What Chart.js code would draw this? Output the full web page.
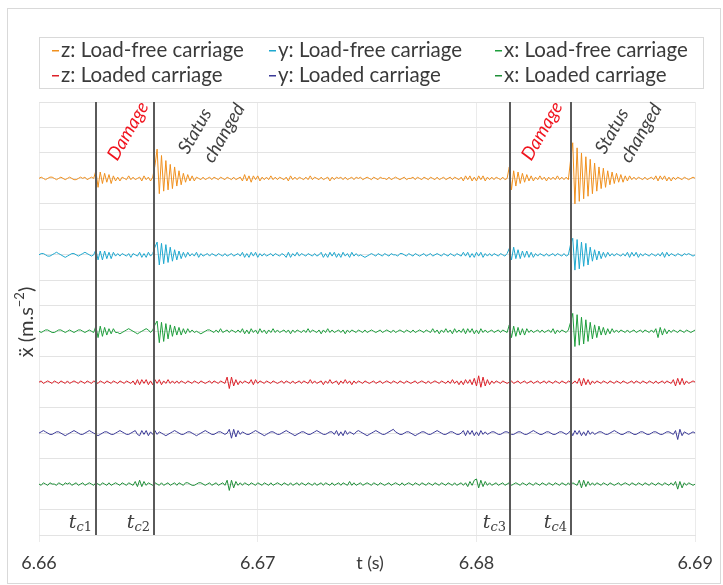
<!DOCTYPE html>
<html>
<head>
<meta charset="utf-8">
<script src="https://cdn.jsdelivr.net/npm/chart.js@4.4.1/dist/chart.umd.min.js"></script>
<style>
  html, body { margin: 0; padding: 0; background: #fff; }
</style>
</head>
<body>
<canvas id="grafico" width="723" height="585"></canvas>
<script>
// Dados (unidades arbitrárias, 20 = uma linha da grelha)
const seriesLabels = ['z: Load-free carriage', 'y: Load-free carriage', 'x: Load-free carriage',
                      'z: Loaded carriage', 'y: Loaded carriage', 'x: Loaded carriage'];
const seriesColors = ['#f0901e', '#1ea8cf', '#1e9e3c', '#dd2129', '#3b3a98', '#1f8f38'];
const traceOffsets = [280, 220, 160, 120, 80, 40];
const timeTicks = [6.66, 6.67, 6.68, 6.69];
const changeTimes = [6.66259, 6.66527, 6.68155, 6.68432];
const changeNames = ['1', '2', '3', '4'];
const sampleStart = 6.66;
const sampleStep = 0.0001;

const zLoadFree = [0,1,0,-1,0,1,1,0,-1,0, 1,0,-1,0,1,0,-1,-1,0,1, 0,1,-1,0,1,0,
  6,-7,5,-4,4,-3,3,-4,2,-2, 1,-2,1,0,-1,2,-1,1,-1,0, 1,-2,2,-1,1,-2,1,
  10,23,-12,18,-10,14,-9,11,-8,9, -6,6,-5,4,-3,3,-2,2,-2,1, 0,-1,1,-1,0,1,-1,1,
  0,-1,1,0,-1,1,0,-1,1,-1,0,1, -2,3,-2,2,-3,2,-1,2,-2,1, -1,1,-1,2,-1,1,-1,1,0,-1,
  1,-2,2,-1,1,-1, 1,0,-1,1,-1,2,-1,1,0,-1, 1,-1,0,1,-2,1,-1,1,0,1, -1,1,-1,0,1,-1,1,
  0,1,-1,0,1,0,-1,1,0,-1, 1,0,0,-1,1,-1,0,1,0,-1, 0,1,-1,0,0,1,-1,1,0,-1, 1,0,-1,1,0,-1,1,-1,0,1,
  -1,0,1,-1,1,0,-1,1, -2,2,-1,2,-2,1,-2,2,-1,2, -2,1,-1, 1,-1,1,0,-1,1,-1,0,
  9,-9,6,-6,5,-4,4,-3,3,-2, 2,-2,1,-1,2,-1,1,-2,1,-1, 1,-1,2,-1,1,-1,1,-1,
  14,28,-20,24,-18,20,-16,17,-14,15, -12,12,-10,9,-8,8,-7,6,-5,5, -4,4,-3,3,-3,2,-2,2,-1,1,
  -1,1,0,-1,1,-1,0,1,-1, 2,-2,2,-1,2,-2,1,-2,1, -1,1,0,-1,1,0,-1,0,1,0];

const yLoadFree = [0,1,1,0,-1,-1,0,1,2,1, 0,-1,-2,-1,0,1,1,0,-1,0, 1,2,1,0,-1,0,
  4,-4,3,-4,3,-3,2,-3,2,-1, 1,-1,1,0,-1,1,-2,1,0,-1, 2,-2,1,-2,2,-1,1,
  6,10,-8,9,-7,8,-6,6,-5,4, -4,3,-3,2,-2,2,-1,1,-1,2, -2,1,-1,0,1,-1,1,0,
  -1,1,0,-1,1,-1,0,1,-1,0,1,-1, 2,-2,1,-2,2,-1,2,-2,1,-1, 1,-1,0,1,-1,1,0,-1,1,0,
  -2,2,-2,1,-1,2, -1,1,0,-1,1,0,-1,1,-1,0, 2,-2,1,-2,2,-1,2,-2,1,-2, 2,-1,1,-2,2,-1,1,
  -1,0,-1,-2,-1,0,1,0,-1,1, 0,-1,1,0,-1,1,0,0,-1,1, 1,0,-1,1,0,-1,1,0,-1,0, 1,-1,0,1,-1,0,1,0,-1,1,
  0,-1,1,0,-1,1,0,-1, 2,-1,2,-2,1,-2,2,-1,2,-2, 1,-1,1, -1,1,0,-1,1,0,-1,1,
  5,-4,6,-3,4,-3,3,-2,3,-2, 2,-2,1,-1,1,0,-1,1,-1,0, 1,-1,1,0,-1,1,-1,0,
  8,13,-12,12,-11,10,-9,9,-8,6, -5,4,-4,3,-3,2,-2,2,-1,1, -1,1,0,-1,1,-1,2,-2,2,-1,
  2,-2,1,-1,1,0,-1,1,0, -1,1,-1,2,-2,2,-1,1,0, -1,1,0,-1,1,0,1,0,-1,0];

const xLoadFree = [0,-1,0,1,1,0,-1,-1,0,1, 1,0,-1,0,1,0,-1,0,1,1, 0,-1,0,1,0,-1,
  4,-5,4,-4,3,-3,2,-2,2,-1, -1,-2,-1,0,1,2,1,0,-1,-2, -1,0,1,2,1,-1,1,
  5,8,-9,7,-8,6,-6,5,-4,4, -3,3,-3,2,-2,2,-1,1,-1,0, -1,-2,-1,0,1,1,0,-1,
  1,-1,2,-1,0,1,-1,1,0,-1,1,-1, 2,-2,1,-2,2,-1,1,-2,2,-1, 1,-2,1,-1,2,-1,1,-1,0,1,
  -1,1,-2,1,-1,1, 0,-1,1,-1,2,-1,1,0,-1,1, -2,1,-1,2,-1,1,-1,0,1,-1, 1,-2,1,-1,1,0,-1,
  1,0,-1,1,-1,0,1,0,-1,0, 1,-1,0,1,0,-1,1,-1,0,1, 0,-1,1,0,-1,1,-1,0,1,0, -1,1,0,-1,2,-1,1,-2,1,-1,
  2,-1,1,-2,2,-1,1,-1, 2,-2,2,-1,2,-2,1,-2,2,-1, 1,-1,0, 1,-1,0,1,-1,1,0,-1,
  5,-5,4,-4,3,-3,2,-3,2,-1, 1,-1,0,1,-1,1,-1,0,1,-1, 2,-2,1,-1,1,0,-1,1,
  7,14,-12,13,-11,11,-10,9,-8,7, -6,5,-5,4,-3,3,-3,2,-2,2, -1,1,-1,1,0,-1,1,-1,0,1,
  -1,0,1,-1,1,0,-1,1,-1, 2,-5,3,-3,2,-2,1,-1,1, 0,-1,1,0,-1,1,0,-1,0,1];

const zLoaded = [0,1,-1,0,1,0,-1,1,0,-1, 1,0,-1,1,-1,0,1,0,-1,1, 0,-1,1,0,-1,1,
  0,-1,1,0,-1,1,0,-1,1,0, -1,1,0,-1,1,0,-1,1,-2,2, -2,2,-1,2,-2,1,-2,
  2,-1,2,-2,1,-1,2,-1,1,-1, 1,-1,1,0,-1,1,0,-1,1,0, -1,1,0,-1,0,1,-1,1,
  0,-1,1,0,-1,4,-5,4,-3,2,-2,1, -1,1,0,-1,2,-2,2,-1,1,0, -1,1,0,-1,1,0,-1,0,1,-1,
  1,0,-1,1,-1,0, 1,-1,1,0,-1,2,-1,1,-1,0, 1,-2,1,-1,2,-1,0,1,-2,1, -1,2,-1,1,-2,1,-1,
  1,0,-1,1,0,-1,0,1,-1,0, 1,-1,0,1,0,-1,1,0,-1,1, 0,-1,1,0,-1,0,1,-1,0,1, 0,-1,1,-1,0,1,0,-1,1,0,
  -1,1,-1,2,-1,1,-2,1, -2,2,-1,2,-2,3,-3,5,-4,4, -3,2,-2, 1,-1,1,0,-1,1,0,-1,
  0,1,-1,0,1,-1,0,1,-1,0, 1,-1,0,1,-1,0,1,-1,1,0, -1,1,0,-1,1,0,-1,1,
  0,-1,1,-1,3,-3,3,-2,2,-2, 1,-1,1,0,-1,1,0,-1,1,0, -1,1,0,-1,1,0,-1,0,1,-1,
  1,0,-1,1,0,-1,1,0,-1, 1,-1,0,1,-1,1,0,-1,2, -3,3,-2,3,-2,1,-1,0,1,0];

const yLoaded = [0,1,2,1,0,-1,-1,0,1,1, 0,-1,-2,-1,0,1,2,1,0,-1, -1,0,1,2,1,0,
  -1,-2,-1,0,1,1,0,-1,-1,0, 1,2,1,0,-1,-1,0,1,2,-1, -2,2,-1,2,-2,1,-1,
  2,-1,1,0,-1,-2,-1,0,1,2, 1,0,-1,-1,0,1,1,0,-1,-2, -1,0,1,2,1,0,-1,-1,
  0,1,1,0,-1,0,3,-4,3,-3,2,-1, 1,0,-1,-1,0,1,2,1,0,-1, -2,-1,0,1,1,0,-1,-1,0,1,
  2,1,0,-1,-2,-1, 0,1,1,0,-1,-1,0,1,2,1, 0,-1,-1,0,1,1,-1,2,-2,1, -2,2,-1,1,0,-1,1,
  2,1,0,-1,-2,-1,0,1,2,1, 0,-1,-1,0,1,2,3,1,0,-1, -1,0,1,1,0,-1,-2,-1,0,1, 1,0,-1,-1,0,1,2,1,0,-1,
  -1,0,1,1,0,-1,-1,0, 2,-2,2,-1,2,-2,1,-2,2,-1, 1,-1,0, 1,1,0,-1,-1,0,1,1,
  0,-1,-1,0,1,1,0,-1,-1,0, 1,2,1,0,-1,-1,0,1,1,0, -1,-1,0,1,1,0,-1,0,
  2,-2,2,-1,2,-2,1,-2,2,-1, 1,-1,0,1,1,0,-1,-1,0,1, 2,1,0,-1,-1,0,1,1,0,-1,
  -1,0,1,1,0,-1,-1,0,1, 1,0,-1,-1,0,1,1,0,-1, 2,-5,3,-2,1,0,-1,0,1,0];

const xLoaded = [0,-1,1,0,-1,1,0,0,-1,1, 0,-1,1,0,1,-1,0,1,-1,0, 1,-1,0,1,0,-1,
  1,0,-1,1,0,-1,1,-1,0,1, 0,-1,1,0,-1,1,0,-1,2,-2, 3,-2,2,-1,1,0,-1,
  1,0,-1,1,-1,0,1,-1,0,1, -1,1,0,-1,1,1,0,-1,-1,0, 1,1,0,-1,0,1,-1,0,
  1,-1,0,1,-1,3,-5,3,-3,2,-1,1, -1,1,0,-1,1,0,-1,1,0,-1, 1,0,-1,1,-1,0,1,0,-1,1,
  0,-1,1,-1,0,1, -1,1,0,-1,1,0,-1,1,-1,0, 1,-1,1,0,-1,1,-1,0,1,-1, 1,0,-1,2,-1,1,-1,
  0,1,-1,0,1,0,-1,1,0,-1, 1,0,-1,0,1,-1,0,1,0,-1, 1,-1,0,1,0,-1,1,0,-1,1, 0,-1,1,0,-1,1,0,-1,1,0,
  -1,1,0,-1,1,-1,0,1, -1,1,-2,2,-1,3,4,-3,3,-2, 2,-1,1, -1,0,1,-1,0,1,-1,0,
  1,-1,0,1,0,-1,1,0,-1,1, 0,-1,1,0,-1,1,0,-1,1,0, -1,1,0,-1,1,0,-1,1,
  -1,1,0,-1,3,-3,3,-2,2,-1, 1,-1,1,0,-1,1,0,-1,1,0, -1,0,1,-1,0,1,0,-1,1,0,
  -1,1,0,-1,1,0,-1,1,0, -1,1,0,-1,1,0,-1,1,-1, 2,-4,2,-3,1,-1,1,0,-1,0];

const sinais = [zLoadFree, yLoadFree, xLoadFree, zLoaded, yLoaded, xLoaded];

const datasets = sinais.map((s, k) => ({
  label: seriesLabels[k],
  data: s.map((v, i) => ({ x: sampleStart + i * sampleStep, y: traceOffsets[k] + v })),
  borderColor: seriesColors[k],
  borderWidth: 1,
  pointRadius: 0,
  tension: 0
}));

function textoRodado(c, txt, x, y, cor) {
  c.save();
  c.translate(x, y);
  c.rotate(-Math.PI / 3);
  c.fillStyle = cor;
  c.textAlign = 'center';
  c.textBaseline = 'middle';
  c.fillText(txt, 0, 0);
  c.restore();
}

const extras = {
  id: 'extras',
  beforeDraw(chart) {
    const c = chart.ctx;
    c.save();
    c.fillStyle = '#fff';
    c.fillRect(0, 0, chart.width, chart.height);
    c.strokeStyle = '#d9d9d9';
    c.lineWidth = 1;
    c.strokeRect(7.5, 8.5, 713, 575);
    c.restore();
  },
  afterDatasetsDraw(chart) {
    const c = chart.ctx;
    const area = chart.chartArea;
    const sx = chart.scales.x;
    c.save();
    changeTimes.forEach((t, k) => {
      const px = Math.round(sx.getPixelForValue(t));
      c.strokeStyle = '#5a5a5a';
      c.lineWidth = 2;
      c.beginPath();
      c.moveTo(px, area.top);
      c.lineTo(px, area.bottom);
      c.stroke();

      // rótulo t_c
      c.textBaseline = 'alphabetic';
      c.fillStyle = '#404040';
      c.font = 'italic 13px "DejaVu Serif"';
      const wc = c.measureText('c').width;
      c.font = '13px "DejaVu Serif"';
      const wn = c.measureText(changeNames[k]).width;
      c.font = 'italic 19px "DejaVu Serif"';
      const wt = c.measureText('t').width;
      const x0 = px - 4 - wn - wc - wt;
      c.fillText('t', x0, 528);
      c.font = 'italic 13px "DejaVu Serif"';
      c.fillText('c', x0 + wt, 531);
      c.font = '13px "DejaVu Serif"';
      c.fillText(changeNames[k], x0 + wt + wc, 531);

      c.font = 'italic 18.5px Lato';
      if (k % 2 === 0) {
        textoRodado(c, 'Damage', px + 32, 131, '#f0141e');
      } else {
        textoRodado(c, 'Status', px + 41, 131, '#404040');
        textoRodado(c, 'changed', px + 70, 133, '#404040');
      }
    });
    c.restore();
  },
  afterDraw(chart) {
    const c = chart.ctx;
    c.save();
    // legenda
    c.strokeStyle = '#d9d9d9';
    c.lineWidth = 1;
    c.strokeRect(39.5, 37.5, 664, 51);
    const colX = [52, 269, 495];
    const rowY = [50, 75];
    c.font = '20.5px Lato';
    c.textBaseline = 'middle';
    c.textAlign = 'left';
    seriesLabels.forEach((lab, k) => {
      const x = colX[k % 3];
      const y = rowY[Math.floor(k / 3)];
      c.fillStyle = seriesColors[k];
      c.fillRect(x, y, 7, 1.5);
      c.fillStyle = '#3a3a3a';
      c.fillText(lab, x + 9, y);
    });

    // títulos dos eixos
    c.fillStyle = '#3a3a3a';
    c.font = '18px Lato';
    c.textAlign = 'center';
    c.fillText('t (s)', 370, 563);

    c.translate(27, 322);
    c.rotate(-Math.PI / 2);
    const p1 = 'ẍ (m.s', p2 = '−2', p3 = ')';
    c.font = '20px Lato';
    const w1 = c.measureText(p1).width;
    const w3 = c.measureText(p3).width;
    c.font = '13px Lato';
    const w2 = c.measureText(p2).width;
    let x = -(w1 + w2 + w3) / 2;
    c.textAlign = 'left';
    c.font = '20px Lato';
    c.fillText(p1, x, 0);
    c.font = '13px Lato';
    c.fillText(p2, x + w1, -7);
    c.font = '20px Lato';
    c.fillText(p3, x + w1 + w2, 0);
    c.restore();
  }
};

const ctx = document.getElementById('grafico').getContext('2d');
const grafico = new Chart(ctx, {
  type: 'line',
  data: { datasets },
  options: {
    responsive: false,
    animation: false,
    devicePixelRatio: 1,
    layout: { padding: { left: 39, right: 24, top: 102, bottom: 0 } },
    plugins: { legend: { display: false }, tooltip: { enabled: false } },
    scales: {
      x: {
        type: 'linear',
        min: timeTicks[0],
        max: timeTicks[timeTicks.length - 1],
        afterBuildTicks: s => { s.ticks = timeTicks.map(v => ({ value: v })); },
        afterFit: s => { s.height = 50; },
        ticks: {
          callback: v => v.toFixed(2),
          font: { family: 'Lato', size: 18 },
          color: '#3a3a3a',
          padding: 10,
          maxRotation: 0,
          autoSkip: false
        },
        grid: { color: '#ebebeb', tickLength: 7 },
        border: { color: '#e3e3e3' }
      },
      y: {
        min: 0,
        max: 340,
        afterBuildTicks: s => {
          s.ticks = [];
          for (let v = 0; v <= 340; v += 20) s.ticks.push({ value: v });
        },
        afterFit: s => { s.width = 0; },
        ticks: { display: false },
        grid: { color: '#e3e3e3', drawTicks: false },
        border: { display: false }
      }
    }
  },
  plugins: [extras]
});
</script>
</body>
</html>
